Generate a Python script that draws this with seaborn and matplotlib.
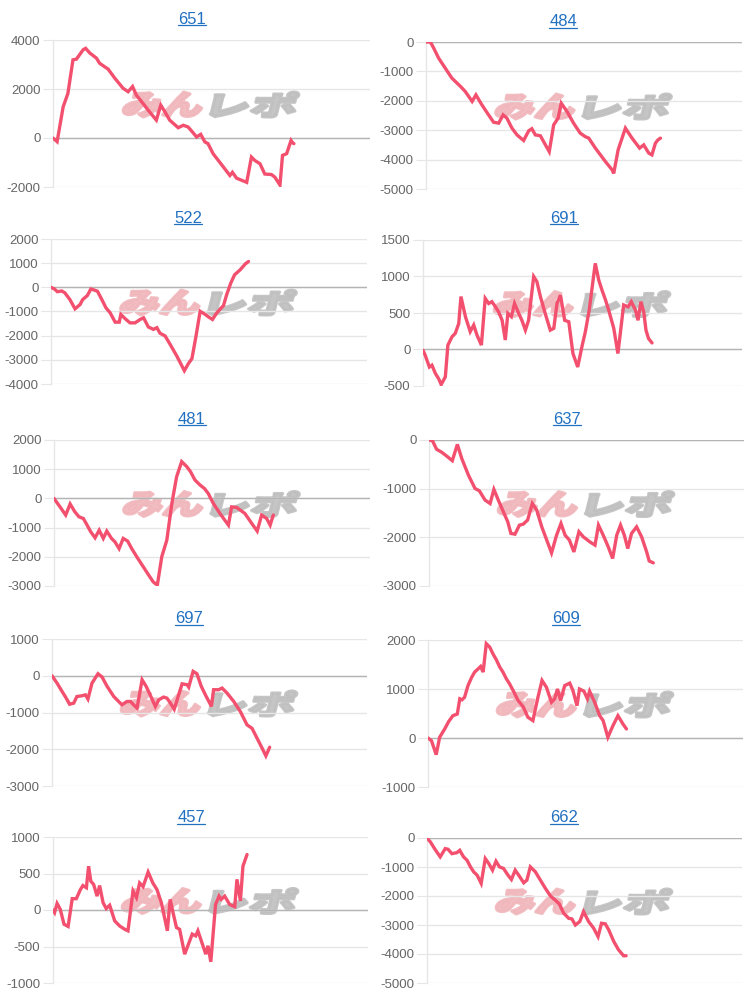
import numpy as np
import pandas as pd
import matplotlib
matplotlib.use("Agg")
import matplotlib.pyplot as plt
import seaborn as sns
from matplotlib.textpath import TextPath
from matplotlib.font_manager import FontProperties
from matplotlib.patches import PathPatch
from matplotlib.transforms import Affine2D, IdentityTransform
from matplotlib.lines import Line2D

# ---------------- data ----------------
titles = ["651", "484", "522", "691", "481", "637", "697", "609", "457", "662"]

x_651 = [0, 1.3, 3.2, 4.7, 6.3, 7.4, 9.5, 10.3, 11.6, 13.7, 14.7, 17.4, 19.5, 22.1, 23.7, 25.1, 26.3, 28.4, 30.0, 32.6,
         34.0, 35.3, 36.8, 39.5, 41.1, 42.6, 43.7, 45.3, 46.6, 47.9, 48.9, 50.5, 52.6, 54.2, 55.8, 56.6, 57.9, 61.1, 62.6,
         63.7, 65.3, 66.8, 68.9, 70.0, 71.6, 72.4, 73.7, 75.1, 75.6, 76.0]
y_651 = [0, -150, 1270, 1820, 3190, 3220, 3600, 3660, 3470, 3260, 3050, 2810, 2440, 2030, 1890, 2100, 1750, 1410, 1140, 730,
         1340, 1070, 730, 420, 520, 450, 290, 40, 150, -160, -230, -640, -990, -1260, -1530, -1400, -1640, -1810, -780,
         -920, -1050, -1470, -1490, -1600, -1920, -710, -640, -100, -200, -230]

x_484 = [0, 1.4, 2.4, 4.0, 6.1, 8.2, 10.9, 12.4, 14.6, 15.8, 17.7, 19.8, 21.4, 23.0, 24.4, 25.6, 27.2, 28.8, 30.9, 32.5,
         33.5, 34.6, 36.2, 37.8, 39.0, 40.4, 41.8, 42.8, 44.6, 46.7, 48.8, 50.4, 51.5, 53.6, 56.8, 58.9, 59.4, 60.8, 63.1,
         65.2, 67.6, 68.9, 70.5, 71.5, 72.6, 73.4, 74.2]
y_484 = [0, 0, -200, -550, -890, -1230, -1510, -1680, -2020, -1800, -2140, -2480, -2730, -2760, -2480, -2590, -2930, -3160,
         -3350, -3020, -2950, -3160, -3190, -3500, -3730, -2820, -2590, -2080, -2360, -2760, -3100, -3220, -3270, -3610,
         -4070, -4350, -4470, -3670, -2930, -3270, -3610, -3500, -3780, -3840, -3440, -3330, -3270]

x_522 = [0, 1.1, 2.0, 3.4, 4.4, 6.0, 7.6, 9.2, 10.0, 11.5, 12.6, 13.4, 14.7, 16.1, 17.4, 18.7, 20.3, 21.6, 22.1, 23.4,
         25.0, 26.6, 28.2, 29.3, 30.8, 32.4, 33.5, 34.5, 36.1, 37.7, 39.8, 42.2, 43.5, 44.6, 45.9, 47.2, 48.8, 49.8, 51.1,
         52.5, 54.6, 55.6, 56.9, 58.1, 59.9, 61.5, 62.5]
y_522 = [0, -70, -180, -150, -230, -510, -890, -710, -510, -340, -70, -100, -160, -510, -850, -1050, -1440, -1440, -1120,
         -1290, -1470, -1470, -1330, -1260, -1640, -1740, -1670, -1900, -2010, -2360, -2840, -3450, -3150, -2950, -2010,
         -990, -1120, -1220, -1330, -1050, -750, -300, 180, 520, 730, 970, 1070]

x_691 = [0, 0.7, 2.0, 2.8, 3.9, 4.9, 5.7, 7.0, 7.8, 9.1, 10.1, 11.2, 11.9, 13.3, 14.8, 15.9, 16.9, 18.3, 19.5, 20.6,
         21.6, 22.7, 23.7, 24.8, 25.8, 26.6, 27.7, 28.7, 30.0, 31.0, 32.1, 33.1, 34.7, 35.7, 36.8, 38.3, 39.9, 41.0, 42.0,
         43.1, 44.4, 45.7, 47.0, 48.5, 49.8, 50.9, 52.1, 54.0, 55.1, 56.1, 57.2, 58.2, 59.8, 61.1, 62.9, 64.3, 65.3, 66.6,
         67.4, 68.3, 69.2, 69.9, 70.7, 71.8]
y_691 = [-10, -80, -240, -215, -330, -400, -480, -375, 60, 175, 220, 355, 725, 450, 245, 335, 200, 60, 700, 630,
         655, 585, 515, 400, 130, 495, 450, 630, 495, 400, 265, 400, 1000, 930, 725, 495, 265, 290, 630,
         745, 400, 380, -55, -240, 35, 245, 540, 1180, 950, 815, 680, 540, 290, -55, 610, 585, 655, 540,
         400, 655, 515, 265, 150, 90]

x_481 = [0, 1.9, 3.7, 5.1, 6.6, 7.9, 9.3, 10.5, 11.6, 13.0, 14.3, 15.6, 16.7, 18.2, 19.3, 20.6, 21.9, 23.3, 24.6, 26.2,
         28.3, 30.1, 31.4, 32.7, 34.1, 35.7, 37.3, 38.8, 40.4, 42.0, 43.2, 44.6, 46.2, 47.6, 48.8, 50.4, 52.5, 55.2, 56.2,
         57.8, 60.4, 62.6, 64.3, 65.7, 67.3, 68.4, 69.4]
y_481 = [0, -290, -570, -190, -460, -630, -690, -920, -1140, -1350, -1090, -1370, -1120, -1370, -1490, -1720, -1370, -1460,
         -1720, -2000, -2350, -2650, -2860, -2970, -2000, -1430, -170, 740, 1260, 1090, 915, 630, 460, 340, 170, -170,
         -515, -915, -290, -310, -515, -860, -1120, -570, -690, -915, -570]

x_637 = [0, 1.1, 2.4, 4.0, 5.6, 7.4, 9.0, 10.4, 12.5, 14.6, 16.0, 17.8, 19.4, 20.6, 22.0, 23.6, 25.0, 26.0, 27.3, 28.7,
         29.9, 31.3, 32.8, 34.2, 35.8, 37.6, 38.9, 40.5, 41.9, 43.2, 44.6, 46.0, 47.6, 49.0, 51.1, 52.7, 53.8, 55.3, 56.9,
         58.3, 59.6, 60.8, 62.0, 63.1, 64.3, 65.9, 67.5, 69.1, 69.9, 71.2]
y_637 = [0, -15, -190, -250, -330, -425, -90, -380, -720, -995, -1045, -1235, -1305, -1015, -1235, -1475, -1680, -1920,
         -1935, -1750, -1730, -1645, -1305, -1440, -1785, -2095, -2320, -1955, -1715, -1955, -2060, -2300, -1885, -1990,
         -2095, -2160, -1750, -1955, -2195, -2435, -1955, -1750, -1955, -2230, -1920, -1785, -1990, -2300, -2485, -2525]

x_697 = [0, 1.6, 3.0, 4.2, 5.6, 6.9, 7.9, 9.5, 10.6, 11.4, 12.7, 14.6, 15.9, 17.5, 19.6, 22.2, 23.8, 24.9, 25.9, 27.0,
         28.6, 29.9, 31.4, 32.8, 33.9, 35.4, 36.5, 37.6, 38.8, 41.3, 42.9, 43.4, 44.8, 46.0, 47.4, 48.7, 50.6, 51.3, 52.9,
         54.0, 55.6, 57.7, 59.8, 61.9, 63.5, 65.1, 66.7, 67.9, 69.1]
y_697 = [0, -200, -400, -565, -775, -745, -565, -545, -520, -635, -200, 55, -35, -290, -565, -790, -700, -700, -790, -880,
         -110, -290, -565, -835, -655, -580, -610, -745, -910, -220, -245, -310, 120, 55, -290, -520, -835, -380, -380,
         -335, -475, -700, -975, -1335, -1430, -1700, -1970, -2180, -1945]

x_609 = [0, 1.1, 2.6, 3.7, 5.3, 6.6, 7.9, 9.3, 10.1, 10.8, 11.6, 12.7, 13.8, 14.8, 15.9, 16.7, 17.5, 18.5, 19.6, 20.6,
         21.7, 22.8, 23.8, 24.9, 25.9, 27.3, 28.6, 30.2, 31.7, 33.3, 34.9, 36.2, 37.6, 39.2, 40.2, 41.1, 42.1, 43.4, 45.0,
         46.0, 47.3, 48.1, 49.5, 50.6, 51.3, 52.9, 54.5, 55.6, 57.1, 58.7, 60.3, 61.9, 63.0]
y_609 = [0, -55, -340, 15, 185, 340, 455, 490, 800, 780, 830, 1070, 1230, 1345, 1410, 1460, 1345, 1925, 1855, 1720,
         1595, 1445, 1345, 1205, 1105, 935, 765, 640, 425, 355, 830, 1175, 1035, 730, 800, 1000, 765, 1070, 1120,
         970, 660, 1000, 955, 800, 955, 730, 455, 355, 15, 250, 455, 285, 185]

x_457 = [0, 0.5, 1.3, 2.3, 3.5, 4.8, 6.1, 7.4, 8.7, 9.5, 10.6, 11.3, 12.0, 12.9, 14.0, 14.8, 15.9, 16.9, 18.0, 19.6,
         21.2, 22.8, 23.8, 25.4, 26.5, 27.5, 28.6, 30.2, 31.7, 33.0, 34.4, 36.3, 37.2, 38.1, 39.2, 40.2, 41.8, 43.2, 44.2,
         45.3, 46.0, 47.1, 48.5, 49.2, 50.1, 51.6, 52.7, 53.4, 54.5, 56.1, 57.7, 58.4, 59.5, 60.3, 61.6]
y_457 = [0, -35, 90, 10, -195, -225, 155, 155, 280, 335, 305, 600, 395, 350, 190, 335, 100, 20, 65, -150,
         -220, -265, -285, 260, 170, 370, 320, 520, 370, 280, 100, -285, 145, -35, -240, -265, -605, -445, -330,
         -355, -285, -425, -605, -490, -710, 75, 190, 145, 190, 75, 45, 420, 125, 600, 760]

x_662 = [0, 1.1, 2.6, 4.2, 5.8, 6.7, 7.9, 9.5, 10.4, 11.6, 12.7, 13.8, 14.8, 15.9, 17.2, 18.5, 19.6, 20.8, 21.9, 23.0,
         24.3, 25.7, 26.8, 28.0, 29.1, 30.7, 31.7, 32.8, 34.4, 36.0, 37.6, 39.2, 40.7, 42.0, 43.4, 45.0, 46.0, 47.1, 48.5,
         49.7, 51.3, 52.9, 54.3, 55.4, 56.6, 57.7, 59.3, 60.8, 62.4, 63.2]
y_662 = [0, -140, -400, -650, -365, -390, -540, -505, -425, -650, -765, -995, -1165, -1280, -1565, -710, -880, -1110, -800,
         -995, -1050, -1280, -1430, -1110, -1280, -1545, -1455, -995, -1165, -1455, -1740, -2000, -2140, -2275, -2595,
         -2770, -2790, -3000, -2880, -2540, -2880, -3110, -3400, -2940, -2960, -3170, -3570, -3855, -4060, -4060]

xs = [x_651, x_484, x_522, x_691, x_481, x_637, x_697, x_609, x_457, x_662]
ys = [y_651, y_484, y_522, y_691, y_481, y_637, y_697, y_609, y_457, y_662]

# y axis ranges (min, max, step)
y_ranges = [(-2000, 4000, 2000), (-5000, 0, 1000), (-4000, 2000, 1000), (-500, 1500, 500), (-3000, 2000, 1000),
            (-3000, 0, 1000), (-3000, 1000, 1000), (-1000, 2000, 1000), (-1000, 1000, 500), (-5000, 0, 1000)]

# ---------------- layout (pixels) ----------------
W, H = 750, 996
# left, right, top, bottom in pixels
boxes = [(53, 370, 40, 187), (426, 742, 42, 189),
         (51, 367, 239, 384), (423, 742, 240, 386),
         (54, 370, 440, 586), (429, 744, 440, 586),
         (52, 367, 639, 786), (428, 743, 640, 787),
         (53, 368, 837, 983), (427, 742, 838, 983)]
title_pos = [(192, 19), (563, 22), (188, 218), (564, 218), (192, 419),
             (567, 419), (189, 618), (566, 618), (191, 817), (564, 817)]

LINE = "#f2506e"
GRID = "#e6e6e6"
ZERO = "#b4b4b4"
TICKC = "#666666"
TITLEC = "#2270c0"

sns.set_theme(style="white")
plt.rcParams["font.family"] = ["Liberation Sans", "DejaVu Sans"]

fig = plt.figure(figsize=(W / 100, H / 100), dpi=100)
fig.patch.set_facecolor("white")

fp_logo = FontProperties(family="Noto Sans CJK JP", weight="heavy")


def add_logo(cx, cy):
    # cx, cy in display px (origin bottom-left)
    hgt = 25
    parts = [("みん", "#f0b6bb", cx - 86, cx - 8), ("レポ", "#bfbfbf", cx + 2, cx + 86)]
    for txt, col, x0, x1 in parts:
        tp = TextPath((0, 0), txt, size=1, prop=fp_logo)
        ext = tp.get_extents()
        sx = (x1 - x0) / ext.width
        sy = hgt / ext.height
        tr = (Affine2D().translate(-ext.x0, -ext.y0).scale(sx, sy)
              .skew_deg(14, 0).translate(x0 - 4, cy - hgt / 2))
        patch = PathPatch(tp, transform=tr + IdentityTransform(), facecolor=col,
                          edgecolor=col, linewidth=2.2, joinstyle="round",
                          alpha=0.9, zorder=0)
        fig.add_artist(patch)


axes = []
for i in range(10):
    l, r, t, b = boxes[i]
    ax = fig.add_axes([l / W, 1 - b / H, (r - l) / W, (b - t) / H])
    ax.set_facecolor("none")
    ymin, ymax, step = y_ranges[i]
    add_logo((l + r) / 2, H - ((t + b) / 2 - 9))
    df = pd.DataFrame({"x": xs[i], "y": ys[i]})
    sns.lineplot(data=df, x="x", y="y", ax=ax, color=LINE, linewidth=2.4, zorder=5,
                 solid_joinstyle="miter", sort=False)
    ax.set_xlim(0, 100)
    ax.set_ylim(ymin, ymax)
    ax.set_yticks(np.arange(ymin, ymax + 1, step))
    ax.set_yticklabels([f"{int(v)}" for v in np.arange(ymin, ymax + 1, step)])
    ax.set_xticks([])
    ax.set_xlabel("")
    ax.set_ylabel("")
    ax.yaxis.grid(True, color=GRID, linewidth=1)
    ax.axhline(0, color=ZERO, linewidth=1, zorder=2)
    for s in ["top", "right", "bottom"]:
        ax.spines[s].set_visible(False)
    ax.spines["left"].set_color(GRID)
    ax.spines["left"].set_linewidth(1)
    ax.tick_params(axis="y", length=7.5, width=0.8, color=GRID, pad=1.5,
                   labelsize=9.5, labelcolor=TICKC, left=True)
    axes.append(ax)

# titles with underline
texts = []
for i in range(10):
    tx, ty = title_pos[i]
    t = fig.text(tx / W, 1 - ty / H, titles[i], ha="center", va="center",
                 fontsize=12, color=TITLEC)
    texts.append(t)

fig.canvas.draw()
renderer = fig.canvas.get_renderer()
for t in texts:
    bb = t.get_window_extent(renderer)
    yline = bb.y0 + 1
    fig.add_artist(Line2D([bb.x0 / W, bb.x1 / W], [yline / H, yline / H],
                          transform=fig.transFigure, color=TITLEC, linewidth=0.9))

fig.savefig("out.png", dpi=100)
